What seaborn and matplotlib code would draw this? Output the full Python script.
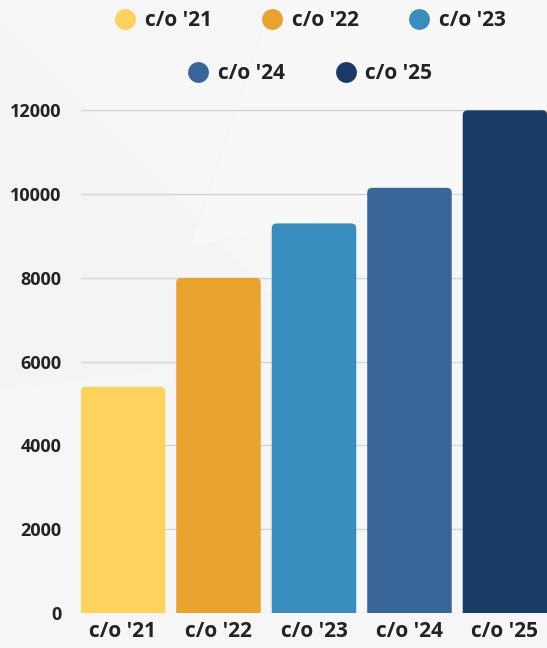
import matplotlib
matplotlib.use("Agg")
import matplotlib.pyplot as plt
import seaborn as sns
import pandas as pd
from matplotlib.patches import FancyBboxPatch, Polygon
from matplotlib.lines import Line2D

categories = ["c/o '21", "c/o '22", "c/o '23", "c/o '24", "c/o '25"]
values = [5400, 8000, 9300, 10150, 12000]
colors = ["#fed35d", "#e8a22e", "#378dbd", "#3a6599", "#1a3b66"]
yticks = [0, 2000, 4000, 6000, 8000, 10000, 12000]

sns.set_theme(style="white")
plt.rcParams['font.family'] = ['Open Sans', 'DejaVu Sans']

fig = plt.figure(figsize=(5.47, 6.48), dpi=100)
fig.patch.set_facecolor("#f6f6f6")
# subtle background shapes
fig.add_artist(Polygon([(0, 0.96), (0, 0.40), (0.6, 0.46)], closed=True,
                       transform=fig.transFigure, facecolor="#f3f4f4", edgecolor="none", zorder=0))
fig.add_artist(Polygon([(0.5, 1.0), (1.0, 1.0), (1.0, 0.72), (0.35, 0.62)], closed=True,
                       transform=fig.transFigure, facecolor="#f8f8f8", edgecolor="none", zorder=0))

ax = fig.add_axes([0.148, 0.054, 0.852, 0.779])
ax.set_facecolor("none")

df = pd.DataFrame({"cat": categories, "val": values})
sns.barplot(data=df, x="cat", y="val", hue="cat", palette=colors, legend=False,
            width=0.885, ax=ax, saturation=1)

ax.set_xlim(-0.44, 4.44)
ax.set_ylim(0, 12050)

# replace bars with rounded versions
fig.canvas.draw()
px_x = (ax.transData.transform((1, 0))[0] - ax.transData.transform((0, 0))[0])
px_y = (ax.transData.transform((0, 1000))[1] - ax.transData.transform((0, 0))[1]) / 1000
aspect = px_x / px_y
for p in list(ax.patches):
    x, y = p.get_x(), p.get_y()
    w, h = p.get_width(), p.get_height()
    fc = p.get_facecolor()
    p.remove()
    r = 5 / px_x
    fb = FancyBboxPatch((x, -300), w, h + 300,
                        boxstyle=f"round,pad=0,rounding_size={r}",
                        mutation_aspect=aspect, facecolor=fc, edgecolor="none",
                        zorder=3, clip_on=True)
    ax.add_patch(fb)

ax.set_yticks(yticks)
ax.set_yticklabels([str(v) for v in yticks], fontsize=13, fontweight="bold", color="#222222")
ax.set_xticks(range(len(categories)))
ax.set_xticklabels(categories, fontsize=15, fontweight="bold", color="#222222")
ax.tick_params(axis="y", length=0, pad=14)
ax.tick_params(axis="x", length=0, pad=6)
ax.set_xlabel("")
ax.set_ylabel("")
for s in ax.spines.values():
    s.set_visible(False)
ax.grid(axis="y", color="#d4d4d4", linewidth=1, zorder=0)
ax.set_axisbelow(True)

handles = [Line2D([], [], marker="o", linestyle="none", markersize=15,
                  markerfacecolor=c, markeredgecolor="none") for c in colors]
leg1 = fig.legend(handles[:3], categories[:3], loc="center", bbox_to_anchor=(0.565, 0.968),
                  ncol=3, frameon=False, prop={"size": 15, "weight": "bold"},
                  handletextpad=0.35, columnspacing=2.3, handlelength=1.2)
leg2 = fig.legend(handles[3:], categories[3:], loc="center", bbox_to_anchor=(0.565, 0.886),
                  ncol=2, frameon=False, prop={"size": 15, "weight": "bold"},
                  handletextpad=0.35, columnspacing=2.3, handlelength=1.2)
for leg in (leg1, leg2):
    for t in leg.get_texts():
        t.set_color("#222222")

fig.savefig("out.png", dpi=100, facecolor=fig.get_facecolor())
